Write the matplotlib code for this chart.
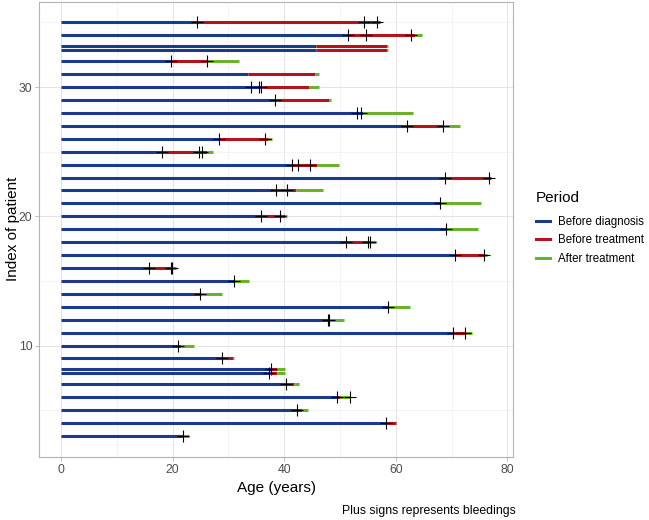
import matplotlib
matplotlib.use("Agg")
import matplotlib.pyplot as plt
from matplotlib.lines import Line2D

plt.rcParams['font.family'] = ['Liberation Sans', 'DejaVu Sans']

# one entry per patient: index, age at diagnosis, age at treatment, age at end of follow-up
patient_idx = [35, 34, 33.2, 32.85, 32, 31, 30, 29, 28, 27, 26, 25, 24, 23, 22, 21, 20, 19,
               18, 17, 16, 15, 14, 13, 12, 11, 10, 9, 8.2, 7.9, 7, 6, 5, 4, 3]
age_diag = [24.3, 51.4, 45.7, 45.7, 19.7, 33.5, 36.0, 38.4, 54.2, 62.0, 28.4, 18.2, 41.4, 68.9,
            38.6, 67.9, 35.9, 69.0, 51.1, 70.6, 15.8, 31.0, 24.9, 58.6, 48.0, 70.2, 20.9, 28.8,
            37.6, 37.4, 40.3, 49.4, 42.3, 58.3, 21.8]
age_treat = [57.2, 63.5, 58.5, 58.5, 26.2, 45.6, 44.5, 48.0, 54.2, 68.6, 37.2, 26.1, 45.9, 77.0,
             42.1, 67.9, 40.2, 69.0, 55.5, 75.9, 19.9, 31.0, 24.9, 58.6, 48.0, 72.6, 21.6, 30.9,
             38.8, 38.8, 41.7, 50.0, 43.2, 60.0, 22.0]
age_end = [57.2, 64.7, 58.7, 58.7, 32.0, 46.3, 46.2, 48.4, 63.1, 71.6, 37.9, 27.2, 49.9, 77.1,
           46.9, 75.3, 40.6, 74.7, 56.4, 76.3, 20.6, 33.7, 28.9, 62.5, 50.7, 73.7, 23.9, 31.0,
           40.2, 40.2, 42.7, 51.8, 44.2, 60.0, 23.0]

# bleedings (plus signs)
bleed_idx = [35, 35, 35, 34, 34, 34, 32, 32, 30, 30, 30, 29, 28, 28, 27, 27, 26, 26, 25, 25, 25,
             24, 24, 24, 23, 23, 22, 22, 21, 20, 20, 19, 18, 18, 18, 17, 17, 16, 16, 16, 15, 14,
             13, 12, 12, 11, 11, 10, 9, 8.2, 7.9, 7, 6, 6, 5, 4, 3]
bleed_age = [24.3, 54.4, 56.6, 51.4, 54.7, 62.8, 19.7, 26.2, 34.1, 35.5, 35.8, 38.4, 53.0, 53.8,
             62.0, 68.4, 28.4, 36.6, 18.2, 24.8, 25.3, 41.4, 42.5, 44.7, 68.9, 76.7, 38.6, 40.5,
             67.9, 35.9, 39.2, 69.0, 51.1, 55.1, 55.4, 70.6, 75.8, 15.8, 19.7, 19.9, 31.0, 24.9,
             58.6, 47.8, 48.1, 70.2, 72.4, 20.9, 28.8, 37.6, 37.3, 40.3, 49.4, 51.8, 42.3, 58.3, 21.8]

periods = ["Before diagnosis", "Before treatment", "After treatment"]
colors = ["#1b3a8c", "#b0141e", "#6cb12e"]

fig = plt.figure(figsize=(6.49, 5.2), dpi=100)
ax = fig.add_axes([0.0606, 0.1217, 0.7303, 0.875])

lw = 2.2
ax.hlines(patient_idx, 0, age_diag, color=colors[0], lw=lw, capstyle='butt', zorder=3)
ax.hlines(patient_idx, age_diag, age_treat, color=colors[1], lw=lw, capstyle='butt', zorder=3)
ax.hlines(patient_idx, age_treat, age_end, color=colors[2], lw=lw, capstyle='butt', zorder=3)
ax.plot(bleed_age, bleed_idx, ls='none', marker='+', ms=9, mew=0.8, color='black', zorder=4)

ax.set_xlim(-3.87, 81.07)
ax.set_ylim(1.4, 36.6)
ax.set_xticks([0, 20, 40, 60, 80])
ax.set_xticks([10, 30, 50, 70], minor=True)
ax.set_yticks([10, 20, 30])
ax.set_yticks([5, 15, 25, 35], minor=True)
ax.grid(which='major', color='#dedede', lw=0.6)
ax.grid(which='minor', color='#ededed', lw=0.4)
ax.set_axisbelow(True)
for s in ax.spines.values():
    s.set_color('#b3b3b3')
    s.set_linewidth(0.8)
ax.tick_params(which='major', length=3, width=0.6, color='#b3b3b3', labelcolor='#4d4d4d',
               labelsize=8.8, pad=2)
ax.tick_params(which='minor', length=0)

ax.set_xlabel("Age (years)", fontsize=11, labelpad=4)
ax.set_ylabel("Index of patient", fontsize=11, labelpad=-1)

# legend: title placed separately so the gap matches
fig.text(536 / 649, 1 - 198 / 520, "Period", fontsize=11, ha='left', va='center')
handles = [Line2D([], [], color=c, lw=2.2) for c in colors]
leg = fig.legend(handles, periods, loc='upper left',
                 bbox_to_anchor=(536 / 649, 1 - 216 / 520), frameon=False, fontsize=8.3,
                 handlelength=1.2, handletextpad=0.7,
                 labelspacing=0.56, borderpad=0, borderaxespad=0)

fig.text(0.795, 0.006, "Plus signs represents bleedings", ha='right', va='bottom', fontsize=8.8)

fig.savefig("out.png", dpi=100)
